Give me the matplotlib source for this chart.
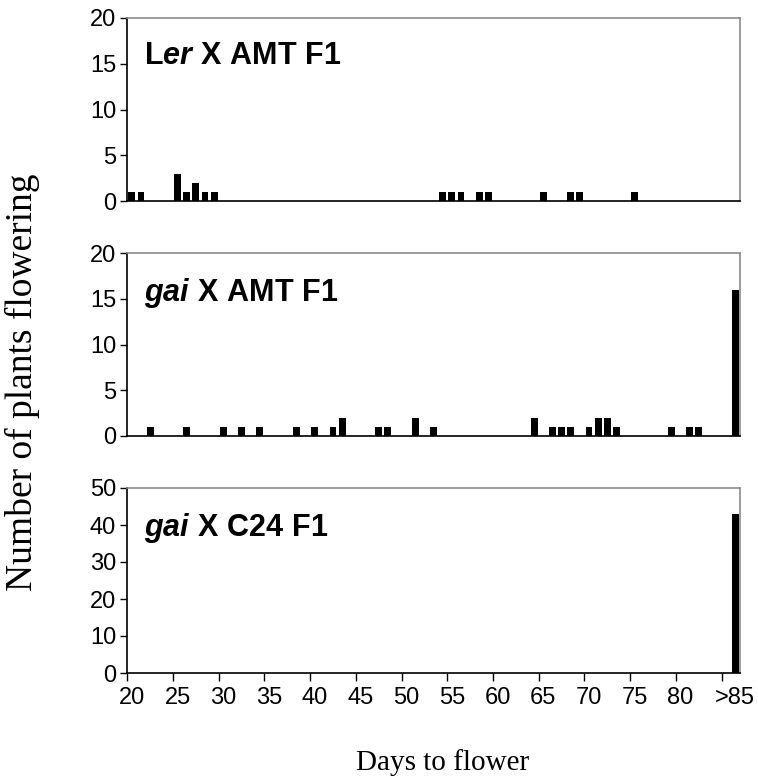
import matplotlib
matplotlib.use('Agg')
import matplotlib.pyplot as plt

plt.rcParams['font.family'] = ['Liberation Sans', 'DejaVu Sans']
plt.rcParams['mathtext.fontset'] = 'custom'
plt.rcParams['mathtext.rm'] = 'Liberation Sans'
plt.rcParams['mathtext.bf'] = 'Liberation Sans:bold'
plt.rcParams['mathtext.it'] = 'Liberation Sans:italic:bold'

# ---- data ----
categories = [str(d) for d in range(20, 86)] + ['>85']
tick_labels = ['20', '25', '30', '35', '40', '45', '50', '55', '60', '65', '70', '75', '80', '>85']
tick_label_cats = ['20', '25', '30', '35', '40', '45', '50', '55', '60', '65', '70', '75', '80', '>85']

ler_amt_days = ['20', '21', '25', '26', '27', '28', '29', '54', '55', '56', '58', '59', '65', '68', '69', '75']
ler_amt_counts = [1, 1, 3, 1, 2, 1, 1, 1, 1, 1, 1, 1, 1, 1, 1, 1]

gai_amt_days = ['22', '26', '30', '32', '34', '38', '40', '42', '43', '47', '48', '51', '53',
                '64', '66', '67', '68', '70', '71', '72', '73', '79', '81', '82', '>85']
gai_amt_counts = [1, 1, 1, 1, 1, 1, 1, 1, 2, 1, 1, 2, 1,
                  2, 1, 1, 1, 1, 2, 2, 1, 1, 1, 1, 16]

gai_c24_days = ['>85']
gai_c24_counts = [43]

panel_titles = [r'$\mathbf{L}\mathit{er}\mathbf{\ X\ AMT\ F1}$',
                r'$\mathit{gai}\mathbf{\ X\ AMT\ F1}$',
                r'$\mathit{gai}\mathbf{\ X\ C24\ F1}$']
y_limits = [20, 20, 50]
y_steps = [5, 5, 10]

# ---- figure ----
W, H = 758, 783
fig = plt.figure(figsize=(W / 100, H / 100), dpi=100)

left = 127.3 / W
width = 612.6 / W
panels = [(18, 201), (253, 436), (488, 673)]
series = [(ler_amt_days, ler_amt_counts), (gai_amt_days, gai_amt_counts), (gai_c24_days, gai_c24_counts)]

idx = {c: i for i, c in enumerate(categories)}
n = len(categories)

for k, ((top, bot), (days, counts)) in enumerate(zip(panels, series)):
    ax = fig.add_axes([left, 1 - bot / H, width, (bot - top) / H])
    xs = [idx[d] for d in days]
    ax.bar(xs, counts, width=0.75, color='black', edgecolor='black', linewidth=0)
    ax.set_xlim(-0.5, n - 0.5)
    ax.set_ylim(0, y_limits[k])
    ax.set_yticks(range(0, y_limits[k] + 1, y_steps[k]))
    ax.tick_params(axis='y', direction='out', length=5, width=1, labelsize=17, pad=3, colors='black')
    for s in ['top', 'right']:
        ax.spines[s].set_color('#8c8c8c')
        ax.spines[s].set_linewidth(1.2)
    for s in ['left', 'bottom']:
        ax.spines[s].set_color('black')
        ax.spines[s].set_linewidth(1.2)
    ax.text(0.027, 0.875, panel_titles[k], transform=ax.transAxes, fontsize=22,
            ha='left', va='top')
    if k < 2:
        ax.set_xticks([])
    else:
        ax.set_xticks([i - 0.5 for i in range(0, 66, 5)])
        ax.set_xticklabels([])
        ax.tick_params(axis='x', direction='out', length=6, width=1, colors='black')
        for lab, c in zip(tick_labels, tick_label_cats):
            ax.text(idx[c], -0.075, lab, transform=ax.get_xaxis_transform(),
                    ha='center', va='top', fontsize=17)

fig.text(443 / W, 1 - 763 / H, 'Days to flower', ha='center', va='center',
         fontsize=21, family='Liberation Serif')
fig.text(22 / W, 1 - 382 / H, 'Number of plants flowering', ha='center', va='center',
         rotation=90, fontsize=27, family='Liberation Serif')

fig.savefig('out.png', dpi=100)
